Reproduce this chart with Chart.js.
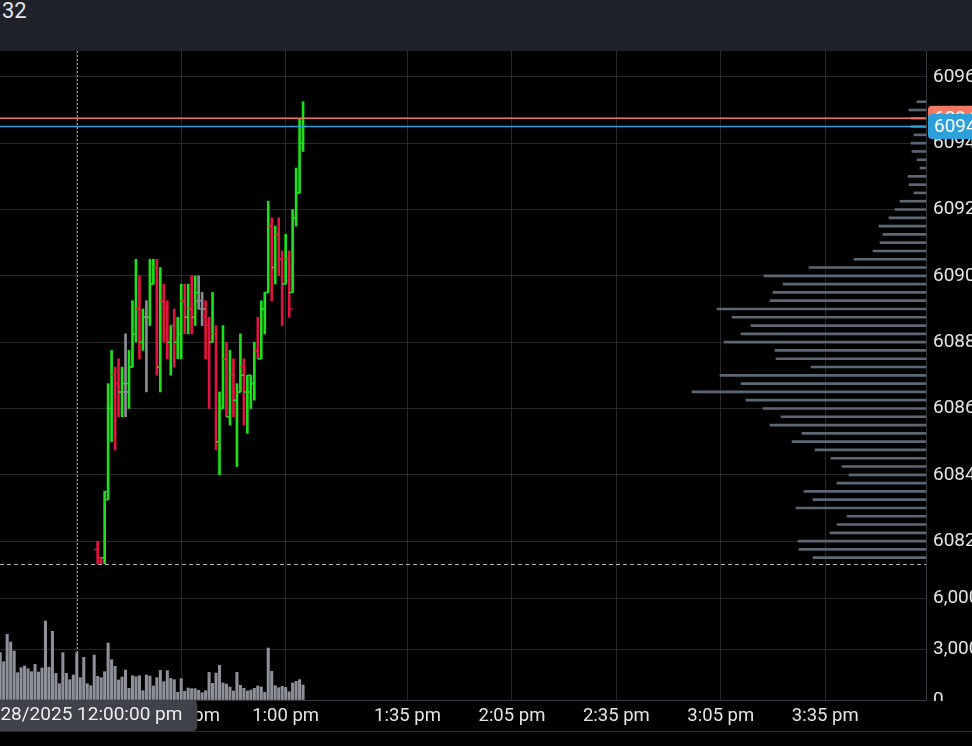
<!DOCTYPE html>
<html>
<head>
<meta charset="utf-8">
<script src="https://cdn.jsdelivr.net/npm/chart.js@4.4.1/dist/chart.umd.min.js"></script>
<style>
html, body { margin: 0; padding: 0; background: #000; overflow: hidden; }
#top { height: 51px; background: #1f222a; color: #e6e6e6; font: 22px/22px Roboto; padding-left: 2px; }
#wrap { position: relative; width: 972px; height: 695px; }
</style>
</head>
<body>
<div id="top">32</div>
<div id="wrap"><canvas id="chart" width="972" height="695"></canvas></div>
<script>
// 1 minute bars, 12:06 - 13:05
let priceTimes = ['12:06','12:07','12:08','12:09','12:10','12:11','12:12','12:13','12:14','12:15',
  '12:16','12:17','12:18','12:19','12:20','12:21','12:22','12:23','12:24','12:25',
  '12:26','12:27','12:28','12:29','12:30','12:31','12:32','12:33','12:34','12:35',
  '12:36','12:37','12:38','12:39','12:40','12:41','12:42','12:43','12:44','12:45',
  '12:46','12:47','12:48','12:49','12:50','12:51','12:52','12:53','12:54','12:55',
  '12:56','12:57','12:58','12:59','13:00','13:01','13:02','13:03','13:04','13:05'];
let opens = [6081.75,6081.5,6081.5,6083.25,6086,6087,6086.75,6086.5,6086.5,6086.75,
  6087.25,6088.25,6089,6088,6088.75,6088.75,6089.75,6090.25,6087.25,6089.25,
  6089,6088,6088.5,6088,6088.25,6089.25,6088.75,6089,6088.75,6089.25,
  6089,6088.75,6088.5,6088,6088.25,6085,6086,6087.5,6085.75,6087,
  6086.25,6086.5,6087.25,6086.5,6086.5,6086.75,6087.75,6087.5,6089,6089.5,
  6091.5,6090.25,6091.25,6090.5,6089.75,6090.5,6089.5,6091.75,6092.5,6094];
let highs = [6082,6081.5,6083.5,6086.75,6087.75,6087.25,6087.5,6087.25,6088.25,6087.75,
  6089.25,6090.5,6090,6089,6089.25,6090.5,6090.5,6090.5,6090.25,6089.75,
  6089.25,6088.5,6089,6088.75,6089.75,6089.75,6089.75,6090,6090,6090,
  6089.5,6089.25,6088.75,6089.5,6088.5,6086.5,6088.5,6088,6087.75,6087.5,
  6086.75,6088.25,6087.5,6087,6087,6088,6088.75,6089.25,6089.5,6092.25,
  6091.75,6091.5,6091.75,6090.75,6091.25,6090.75,6092,6093.25,6094.75,6095.25];
let lows = [6081.25,6081.25,6081.25,6083.25,6085,6084.75,6085.75,6085.75,6085.75,6086,
  6087.25,6088,6087.5,6087.75,6086.5,6088.5,6089.75,6087,6086.5,6088,
  6087.5,6087,6087.25,6087.5,6087.5,6088.25,6088.25,6088.25,6088.5,6089,
  6088.5,6087.5,6086,6088,6084.75,6084,6086,6085.75,6085.5,6085.75,
  6084.25,6086.5,6085.5,6085.25,6086,6086.25,6087.5,6087.5,6088.25,6089.5,
  6089.25,6089.75,6090,6088.5,6089.75,6088.75,6089.5,6091.5,6092.5,6093.75];
let closes = [6081.5,6081.25,6083.5,6086,6087,6086.75,6086.5,6086.75,6086.5,6087.25,
  6088.25,6089,6088,6088.75,6088.75,6089.75,6090.25,6087.25,6089.25,6089,
  6088,6088.5,6088,6088.25,6089.25,6088.75,6089,6088.75,6089.5,6089.25,
  6089,6088.5,6088,6088.25,6085,6086,6087.5,6085.75,6087,6086.5,
  6086.5,6087,6086.5,6087,6086.75,6087.75,6087.5,6089,6089.5,6091.5,
  6090.25,6091.25,6090.5,6089.75,6090.5,6089,6091.75,6092.5,6094,6094.5];

// volume, 11:38 - 13:05
let volTimes = ['11:38','11:39','11:40','11:41','11:42','11:43','11:44','11:45','11:46','11:47','11:48',
  '11:49','11:50','11:51','11:52','11:53','11:54','11:55','11:56','11:57','11:58','11:59',
  '12:00','12:01','12:02','12:03','12:04','12:05','12:06','12:07','12:08','12:09',
  '12:10','12:11','12:12','12:13','12:14','12:15','12:16','12:17','12:18','12:19',
  '12:20','12:21','12:22','12:23','12:24','12:25','12:26','12:27','12:28','12:29',
  '12:30','12:31','12:32','12:33','12:34','12:35','12:36','12:37','12:38','12:39',
  '12:40','12:41','12:42','12:43','12:44','12:45','12:46','12:47','12:48','12:49',
  '12:50','12:51','12:52','12:53','12:54','12:55','12:56','12:57','12:58','12:59',
  '13:00','13:01','13:02','13:03','13:04','13:05'];
let volumes = [2783,2254,3861,3410,2881,1607,1901,1999,1842,1666,2097,
  1646,1882,4645,1921,4038,1568,960,2783,1568,1196,1470,
  2783,1313,2509,960,843,2646,1392,1313,1666,3352,
  2372,1980,1176,1352,1764,686,1431,1372,1431,549,
  1470,1411,823,1313,1744,1078,1725,1274,1196,451,
  1254,510,706,666,666,568,431,549,1627,980,
  1588,2038,1000,941,764,529,1627,862,686,529,
  588,686,823,764,451,3058,1686,843,725,804,
  745,490,1000,1098,1196,882];

// volume profile by price
let profilePrices = [6095.25,6095,6094.75,6094.5,6094.25,6094,6093.75,6093.5,6093.25,6093,
  6092.75,6092.5,6092.25,6092,6091.75,6091.5,6091.25,6091,6090.75,6090.5,
  6090.25,6090,6089.75,6089.5,6089.25,6089,6088.75,6088.5,6088.25,6088,
  6087.75,6087.5,6087.25,6087,6086.75,6086.5,6086.25,6086,6085.75,6085.5,
  6085.25,6085,6084.75,6084.5,6084.25,6084,6083.75,6083.5,6083.25,6083,
  6082.75,6082.5,6082.25,6082,6081.75,6081.5];
let profileVols = [90,170,150,150,120,150,140,90,60,180,
  170,120,260,310,370,470,430,460,530,720,
  1170,1620,1430,1530,1560,2090,1940,1750,1850,2020,
  1510,1500,1150,2060,1850,2340,1800,1630,1450,1560,
  1240,1340,1110,950,840,770,890,1220,1130,1300,
  790,890,960,1280,1270,1130];

let priceTicks = [6082,6084,6086,6088,6090,6092,6094,6096];
let volTicks = [0,3000,6000];
let timeTicks = ['12:00','12:30','13:00','13:35','14:05','14:35','15:05','15:35'];
let lastPrice = 6094.5;
let alertPrice = 6094.75;
let crossTime = '12:00';
let crossLabel = '01/28/2025 12:00:00 pm';

let green = '#1ee01a', red = '#e3123e', grey = '#8b8e96';
let gridColor = '#29292c', borderColor = '#37393f', textColor = '#e4e4e4';

function toMin(s) { let p = s.split(':'); return +p[0] * 60 + +p[1]; }
function fmtTime(m) {
  let h = Math.floor(m / 60), mm = m % 60;
  return (h % 12 || 12) + ':' + String(mm).padStart(2, '0') + ' ' + (h >= 12 ? 'pm' : 'am');
}
function barColor(i) {
  if (closes[i] > opens[i]) return green;
  if (closes[i] < opens[i]) return red;
  return grey;
}

Chart.defaults.font.family = 'Roboto';

function roundRect(ctx, x, y, w, h, r) {
  ctx.beginPath();
  ctx.moveTo(x + r, y);
  ctx.lineTo(x + w - r, y); ctx.quadraticCurveTo(x + w, y, x + w, y + r);
  ctx.lineTo(x + w, y + h - r); ctx.quadraticCurveTo(x + w, y + h, x + w - r, y + h);
  ctx.lineTo(x + r, y + h); ctx.quadraticCurveTo(x, y + h, x, y + h - r);
  ctx.lineTo(x, y + r); ctx.quadraticCurveTo(x, y, x + r, y);
  ctx.closePath();
}

let overlay = {
  id: 'overlay',
  beforeDatasetDraw(chart, args) {
    if (args.index !== 0) return;
    let {ctx, chartArea} = chart, ys = chart.scales.y;
    ctx.save();
    ctx.beginPath();
    ctx.rect(chartArea.left, ys.top, chartArea.right - chartArea.left, ys.bottom - ys.top);
    ctx.clip();
  },
  afterDatasetDraw(chart, args) {
    if (args.index !== 0) return;
    let ctx = chart.ctx, ys = chart.scales.y;
    ctx.lineWidth = 1.5;
    args.meta.data.forEach((bar, i) => {
      let half = bar.width / 2;
      let yo = ys.getPixelForValue(opens[i]), yc = ys.getPixelForValue(closes[i]);
      ctx.strokeStyle = barColor(i);
      ctx.beginPath();
      ctx.moveTo(bar.x - half - 2.5, yo); ctx.lineTo(bar.x, yo);
      ctx.moveTo(bar.x, yc); ctx.lineTo(bar.x + half + 2.5, yc);
      ctx.stroke();
    });
    ctx.restore();
  },
  afterDatasetsDraw(chart) {
    let {ctx, chartArea} = chart, ys = chart.scales.y, xs = chart.scales.x;
    ctx.save();
    // price lines
    [[alertPrice, '#f0765e'], [lastPrice, '#2d9fdb']].forEach(([p, c]) => {
      let py = ys.getPixelForValue(p);
      ctx.strokeStyle = c; ctx.lineWidth = 1.5;
      ctx.beginPath(); ctx.moveTo(chartArea.left, py); ctx.lineTo(chartArea.right, py); ctx.stroke();
    });
    // crosshair
    let cx = Math.round(xs.getPixelForValue(toMin(crossTime))) + 0.5;
    ctx.strokeStyle = '#a0a0a0'; ctx.lineWidth = 1;
    ctx.setLineDash([2, 2]);
    ctx.beginPath(); ctx.moveTo(cx, chartArea.top); ctx.lineTo(cx, chartArea.bottom); ctx.stroke();
    let hy = Math.round(ys.bottom) + 0.5;
    ctx.setLineDash([4, 3]);
    ctx.strokeStyle = '#b0b0b0';
    ctx.beginPath(); ctx.moveTo(chartArea.left, hy); ctx.lineTo(chartArea.right, hy); ctx.stroke();
    ctx.restore();
  },
  afterDraw(chart) {
    let {ctx, chartArea, width, height} = chart, ys = chart.scales.y, xs = chart.scales.x;
    ctx.save();
    // volume axis labels stop at the pane bottom
    ctx.fillStyle = '#000';
    ctx.fillRect(chartArea.right + 1, chartArea.bottom + 1, width - chartArea.right, height - chartArea.bottom);
    ctx.strokeStyle = '#2a2c33'; ctx.lineWidth = 1;
    ctx.beginPath(); ctx.moveTo(0, chartArea.bottom + 31.5); ctx.lineTo(width, chartArea.bottom + 31.5); ctx.stroke();
    // crosshair time label
    let cx = xs.getPixelForValue(toMin(crossTime));
    ctx.font = '19px Roboto';
    let tw = ctx.measureText(crossLabel).width;
    ctx.fillStyle = '#404249';
    roundRect(ctx, cx - tw / 2 - 15, chartArea.bottom, tw + 30, 31, 5);
    ctx.fill();
    ctx.fillStyle = '#ededed';
    ctx.textAlign = 'center'; ctx.textBaseline = 'middle';
    ctx.fillText(crossLabel, cx, chartArea.bottom + 15);
    // price labels
    ctx.font = '19px Roboto';
    ctx.textAlign = 'left';
    [[alertPrice, '#f27a62'], [lastPrice, '#2d9fdb']].forEach(([p, c]) => {
      let py = ys.getPixelForValue(p);
      ctx.fillStyle = c;
      roundRect(ctx, chartArea.right + 2, py - 12.5, 60, 25, 4);
      ctx.fill();
      ctx.fillStyle = '#ffffff';
      ctx.fillText(p.toFixed(2), chartArea.right + 8, py + 1);
    });
    ctx.restore();
  }
};

let ctx = document.getElementById('chart').getContext('2d');

let chart = new Chart(ctx, {
  type: 'bar',
  data: {
    datasets: [{
      label: 'OHLC',
      data: priceTimes.map((t, i) => ({x: toMin(t), y: [lows[i], highs[i]]})),
      xAxisID: 'x', yAxisID: 'y',
      backgroundColor: priceTimes.map((t, i) => barColor(i)),
      barThickness: 2,
      grouped: false,
      order: 1
    }, {
      label: 'Volume',
      data: volTimes.map((t, i) => ({x: toMin(t), y: volumes[i]})),
      xAxisID: 'x', yAxisID: 'yv',
      backgroundColor: '#8d9099',
      barThickness: 2.4,
      grouped: false,
      order: 2
    }, {
      label: 'Profile',
      data: profilePrices.map((p, i) => ({x: profileVols[i], y: p})),
      indexAxis: 'y',
      xAxisID: 'xp', yAxisID: 'y',
      backgroundColor: '#5c6775',
      barThickness: 2,
      grouped: false,
      order: 3
    }]
  },
  options: {
    responsive: false,
    animation: false,
    layout: { padding: 0 },
    plugins: { legend: { display: false }, tooltip: { enabled: false } },
    scales: {
      x: {
        type: 'linear',
        offset: false,
        min: 697.94, max: 963.95,
        afterBuildTicks: s => { s.ticks = timeTicks.map(t => ({value: toMin(t)})); },
        afterFit: s => { s.height = 46; s.paddingLeft = 0; s.paddingRight = 0; },
        ticks: { color: textColor, font: { size: 18.5 }, padding: 5, maxRotation: 0, autoSkip: false,
                 callback: v => fmtTime(v) },
        grid: { color: gridColor, drawTicks: false, offset: false },
        border: { color: borderColor }
      },
      y: {
        type: 'linear',
        offset: false,
        position: 'right',
        stack: 'right', stackWeight: 513,
        min: 6081.31, max: 6096.78,
        afterBuildTicks: s => { s.ticks = priceTicks.map(v => ({value: v})); },
        afterFit: s => { s.width = 46; s.paddingTop = 0; s.paddingBottom = 0; },
        ticks: { color: textColor, font: { size: 19 }, padding: 7, callback: v => String(v) },
        grid: { color: gridColor, drawTicks: false, offset: false },
        border: { color: borderColor }
      },
      yv: {
        type: 'linear',
        offset: false,
        position: 'right',
        stack: 'right', stackWeight: 136,
        min: 0, max: 8000,
        afterBuildTicks: s => { s.ticks = volTicks.map(v => ({value: v})); },
        afterFit: s => { s.width = 46; s.paddingTop = 0; s.paddingBottom = 0; },
        ticks: { color: textColor, font: { size: 19 }, padding: 7, callback: v => v.toLocaleString('en-US') },
        grid: { color: gridColor, drawTicks: false, offset: false },
        border: { color: borderColor }
      },
      xp: {
        type: 'linear',
        offset: false,
        display: false,
        reverse: true,
        min: 0, max: 9260
      }
    }
  },
  plugins: [overlay]
});
</script>
</body>
</html>
